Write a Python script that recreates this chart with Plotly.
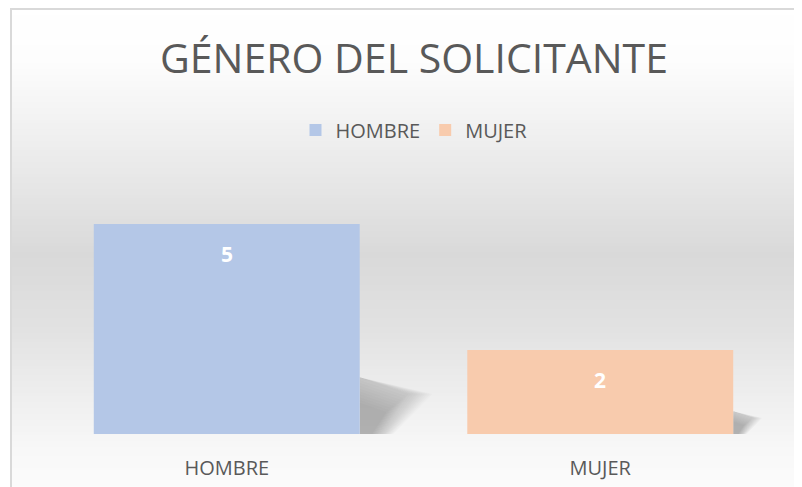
import plotly.graph_objects as go

categories = ["HOMBRE", "MUJER"]
values = [5, 2]
colors = ["#B4C7E7", "#F8CBAD"]
title_text = "GÉNERO DEL SOLICITANTE"

# page body has an 8px margin; work in screen coordinates and convert
OFF = 8
W, H = 802 - OFF, 487 - OFF
SL, SR, STOP, SBOT = 40, 787, 182, 434   # plot area in screen px
L, R = SL - OFF, (W + OFF) - SR
T, B = STOP - OFF, (H + OFF) - SBOT
plot_h = SBOT - STOP
plot_w = SR - SL
bar_w = 0.712
TXT = "#595959"
FONT = "Open Sans"

fig = go.Figure()
for cat, val, col in zip(categories, values, colors):
    fig.add_trace(go.Bar(
        x=[cat], y=[val], name=cat, marker=dict(color=col, line=dict(width=0)),
        width=bar_w, showlegend=True, hoverinfo="x+y",
    ))

def sy(py):  # screen y -> paper y
    return (SBOT - py) / plot_h

def sx(px):  # screen x -> paper x
    return (px - SL) / plot_w

# background vertical gradient (decoration)
stops = [(0, 255), (60, 253), (100, 246), (170, 233), (255, 217), (330, 226),
         (400, 239), (450, 248), (487, 251)]

def gray(py):
    for (a, ga), (b, gb) in zip(stops[:-1], stops[1:]):
        if a <= py <= b:
            return ga + (gb - ga) * (py - a) / (b - a)
    return 252

shapes = []
step = 3
for py in range(9, 500, step):
    g = int(round(gray(py + step / 2)))
    shapes.append(dict(type="rect", xref="paper", yref="paper",
                       x0=sx(11), x1=sx(830),
                       y0=sy(py + step + 0.5), y1=sy(py),
                       line=dict(width=0), fillcolor=f"rgb({g},{g},{g})", layer="below"))
# chart border
shapes.append(dict(type="rect", xref="paper", yref="paper",
                   x0=sx(11), x1=sx(830), y0=sy(520), y1=sy(9),
                   line=dict(color="#D9D9D9", width=2), fillcolor="rgba(0,0,0,0)", layer="below"))

# soft shadows cast by bars (decoration derived from data)
for i, v in enumerate(values):
    xr = i + bar_w / 2
    for k in range(20):
        s = 1.5 - k * 0.05
        pts = [(xr, 0), (xr, 0.27 * v * min(s, 1.0)),
               (xr + 0.026 * v * s, 0.19 * v * min(s, 1.0)), (xr + 0.012 * v * s, 0)]
        path = "M " + " L ".join(f"{x:.4f},{y:.4f}" for x, y in pts) + " Z"
        shapes.append(dict(type="path", xref="x", yref="y", path=path,
                           line=dict(width=0), fillcolor="rgba(70,70,70,0.022)", layer="below"))

annotations = []
for cat, val in zip(categories, values):
    annotations.append(dict(x=cat, y=val, xref="x", yref="y", text=f"<b>{val}</b>",
                            showarrow=False, yshift=-30, yanchor="middle",
                            font=dict(family=FONT, size=21, color="white")))

fig.update_layout(
    width=W, height=H,
    margin=dict(l=L, r=R, t=T, b=B, autoexpand=False),
    paper_bgcolor="white",
    plot_bgcolor="rgba(0,0,0,0)",
    title=dict(text=title_text, x=(414 - OFF) / W, xanchor="center", xref="container",
               y=1 - (59 - OFF) / H, yanchor="middle", yref="container",
               font=dict(family=FONT, size=41, color=TXT)),
    legend=dict(orientation="h", x=(414 - OFF) / W, xanchor="center", xref="container",
                y=1 - (130 - OFF) / H, yanchor="middle", yref="container",
                font=dict(family=FONT, size=20, color=TXT), bgcolor="rgba(0,0,0,0)",
                itemwidth=30, traceorder="normal"),
    barmode="overlay",
    xaxis=dict(type="category", categoryorder="array", categoryarray=categories,
               range=[-0.5, 1.5], showgrid=False, zeroline=False, showline=False,
               automargin=False, ticks="", ticklabelstandoff=20,
               tickfont=dict(family=FONT, size=20, color=TXT)),
    yaxis=dict(range=[0, 6], showgrid=False, zeroline=False, showline=False,
               automargin=False, showticklabels=False, ticks=""),
    shapes=shapes,
    annotations=annotations,
    font=dict(family=FONT, color=TXT),
)

fig.write_html("out.html")
